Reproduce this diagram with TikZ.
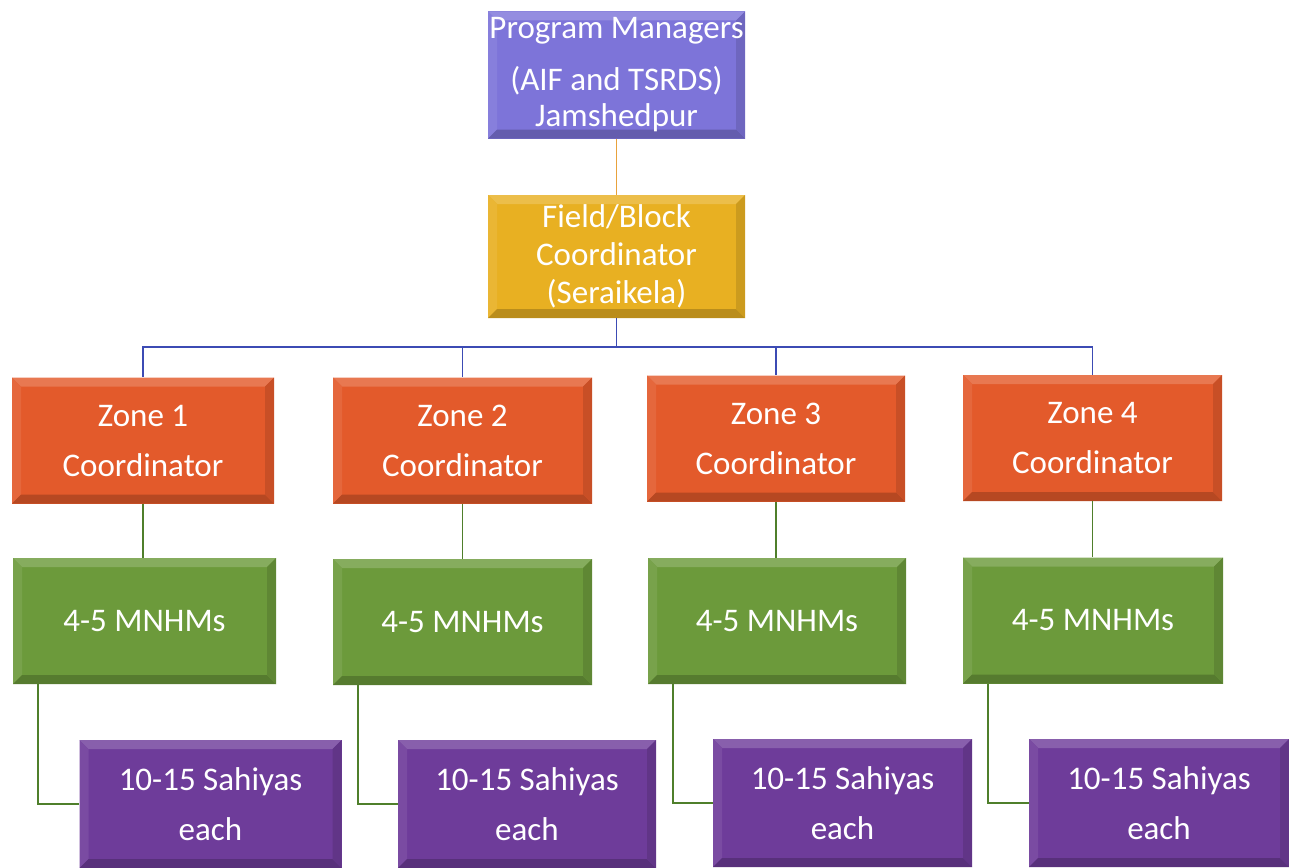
\documentclass[tikz,border=0pt]{standalone}
\usepackage{fontspec}
\setmainfont{Carlito}
\definecolor{pmblue}{HTML}{7D74D9}
\definecolor{fieldgold}{HTML}{E8B022}
\definecolor{zoneorange}{HTML}{E35A2B}
\definecolor{mnhmgreen}{HTML}{6C9A3B}
\definecolor{sahiyapurple}{HTML}{6E3C9A}
\definecolor{linkorange}{HTML}{E8A23C}
\definecolor{linkblue}{HTML}{3C4BB4}
\definecolor{linkgreen}{HTML}{4F7F2B}
\tikzset{
  bevel/.style={path picture={
    \fill[#1!82!white] (path picture bounding box.north west) -- (path picture bounding box.north east)
      -- ([xshift=-9pt,yshift=-9pt]path picture bounding box.north east)
      -- ([xshift=9pt,yshift=-9pt]path picture bounding box.north west) -- cycle;
    \fill[#1!92!white] (path picture bounding box.north west)
      -- ([xshift=9pt,yshift=-9pt]path picture bounding box.north west)
      -- ([xshift=9pt,yshift=9pt]path picture bounding box.south west)
      -- (path picture bounding box.south west) -- cycle;
    \fill[#1!80!black] (path picture bounding box.south west)
      -- ([xshift=9pt,yshift=9pt]path picture bounding box.south west)
      -- ([xshift=-9pt,yshift=9pt]path picture bounding box.south east)
      -- (path picture bounding box.south east) -- cycle;
    \fill[#1!88!black] (path picture bounding box.south east)
      -- ([xshift=-9pt,yshift=9pt]path picture bounding box.south east)
      -- ([xshift=-9pt,yshift=-9pt]path picture bounding box.north east)
      -- (path picture bounding box.north east) -- cycle;
  }},
  orgbox/.style={rectangle, inner sep=0pt, align=center, text=white,
    font=\fontsize{33}{50}\selectfont, fill=#1, bevel=#1,
    minimum width=259pt, minimum height=126pt},
  link/.style={line width=1.8pt, draw=#1},
}
\begin{document}
\begin{tikzpicture}[x=1pt,y=-1pt]
  \useasboundingbox (0,0) rectangle (1289,867);

  % management levels
  \node[orgbox=pmblue, minimum width=257pt, minimum height=127pt,
        font=\fontsize{33}{36}\selectfont] (pm) at (616.5,75)
    {Program Managers\\[16pt](AIF and TSRDS)\\Jamshedpur};
  \node[orgbox=fieldgold, minimum width=257pt, minimum height=123pt,
        font=\fontsize{33}{38}\selectfont] (field) at (616.5,256.5)
    {Field/Block\\Coordinator\\(Seraikela)};

  % zone coordinators
  \node[orgbox=zoneorange, minimum width=262pt] (z1) at (143,440.5) {Zone 1\\Coordinator};
  \node[orgbox=zoneorange] (z2) at (462.5,440.5) {Zone 2\\Coordinator};
  \node[orgbox=zoneorange, minimum width=258pt] (z3) at (776,438.5) {Zone 3\\Coordinator};
  \node[orgbox=zoneorange] (z4) at (1092.5,438) {Zone 4\\Coordinator};

  % MNHM groups
  \node[orgbox=mnhmgreen, minimum width=263pt] (m1) at (144.5,621) {4-5 MNHMs};
  \node[orgbox=mnhmgreen] (m2) at (462.5,622) {4-5 MNHMs};
  \node[orgbox=mnhmgreen, minimum width=258pt] (m3) at (777,621) {4-5 MNHMs};
  \node[orgbox=mnhmgreen, minimum width=260pt] (m4) at (1093,620.5) {4-5 MNHMs};

  % Sahiya groups
  \node[orgbox=sahiyapurple, minimum width=262pt, minimum height=128pt] (s1) at (210.5,804) {10-15 Sahiyas\\each};
  \node[orgbox=sahiyapurple, minimum width=258pt, minimum height=128pt] (s2) at (527,804) {10-15 Sahiyas\\each};
  \node[orgbox=sahiyapurple, minimum width=259pt, minimum height=128pt] (s3) at (842.5,803) {10-15 Sahiyas\\each};
  \node[orgbox=sahiyapurple, minimum width=260pt, minimum height=128pt] (s4) at (1159,803) {10-15 Sahiyas\\each};

  % connectors
  \coordinate (bus) at (0,347);
  \draw[link=linkorange] (pm.south) -- (field.north);
  \foreach \z in {z1,z2,z3,z4}
    \draw[link=linkblue] (field.south) |- (\z.north |- bus) -- (\z.north);
  \foreach \z/\m/\s in {z1/m1/s1,z2/m2/s2,z3/m3/s3,z4/m4/s4} {
    \draw[link=linkgreen] (\z.south) -- (\z.south |- \m.north);
    \draw[link=linkgreen] ([xshift=25pt]\m.south west) |- (\s.west);
  }
\end{tikzpicture}
\end{document}
